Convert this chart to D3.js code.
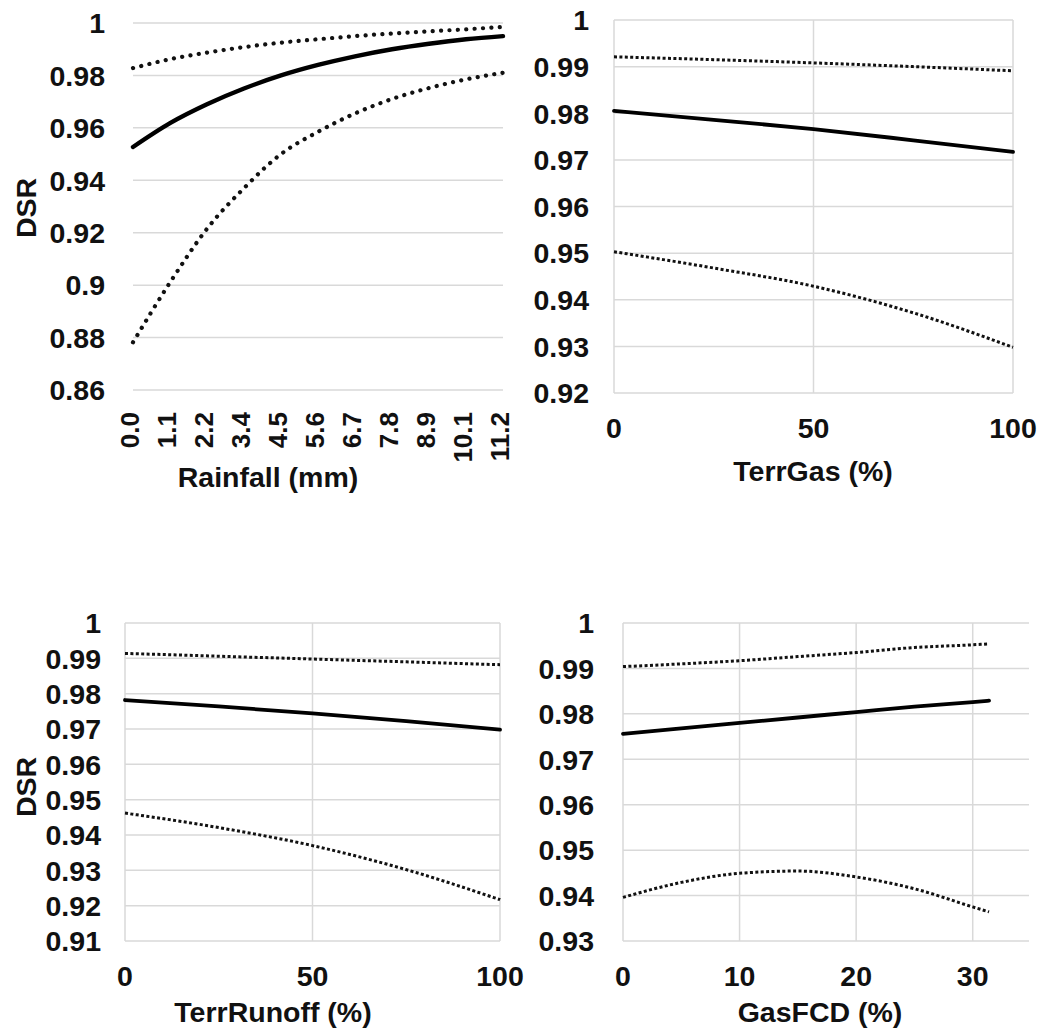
<!DOCTYPE html>
<html><head><meta charset="utf-8">
<script src="https://cdn.jsdelivr.net/npm/d3@7"></script>
<style>
html,body{margin:0;padding:0;background:#fff;}
text{font-family:"Liberation Sans",Arial,sans-serif;font-weight:bold;fill:#111;}
</style></head>
<body><svg id="c" width="1057" height="1034"></svg>
<script>
// ---- Data ----
const rainLabels = ["0.0","1.1","2.2","3.4","4.5","5.6","6.7","7.8","8.9","10.1","11.2"];
const rainX      = [0, 1.12, 2.24, 3.36, 4.48, 5.6, 6.72, 7.84, 8.96, 10.08, 11.2];
const rainMean   = [0.9527,0.9618,0.9690,0.9750,0.9800,0.9840,0.9873,0.9900,0.9921,0.9938,0.9950];
const rainUpper  = [0.9828,0.9862,0.9887,0.9908,0.9925,0.9938,0.9950,0.9960,0.9968,0.9976,0.9985];
const rainLower  = [0.8782,0.9010,0.9215,0.9370,0.9500,0.9585,0.9655,0.9710,0.9752,0.9785,0.9810];
const rainYTicks = [0.86,0.88,0.9,0.92,0.94,0.96,0.98,1];

const gasX     = [0, 25, 50, 75, 100];
const gasMean  = [0.9805,0.9786,0.9766,0.9742,0.9717];
const gasUpper = [0.9921,0.9915,0.9908,0.9900,0.9891];
const gasLower = [0.9503,0.9468,0.9429,0.9372,0.9298];
const gasYTicks = [0.92,0.93,0.94,0.95,0.96,0.97,0.98,0.99,1];
const gasXTicks = [0, 50, 100];

const runX     = [0, 25, 50, 75, 100];
const runMean  = [0.9782,0.9764,0.9744,0.9722,0.9698];
const runUpper = [0.9914,0.9906,0.9898,0.9890,0.9882];
const runLower = [0.9462,0.9421,0.9370,0.9302,0.9217];
const runYTicks = [0.91,0.92,0.93,0.94,0.95,0.96,0.97,0.98,0.99,1];
const runXTicks = [0, 50, 100];

const fcdX     = [0, 5, 10, 15, 20, 25, 30, 31.4];
const fcdMean  = [0.9756,0.9768,0.9780,0.9792,0.9804,0.9816,0.9826,0.9829];
const fcdUpper = [0.9904,0.9910,0.9917,0.9926,0.9935,0.9946,0.9952,0.9954];
const fcdLower = [0.9396,0.9429,0.9449,0.9454,0.9441,0.9415,0.9375,0.9364];
const fcdYTicks = [0.93,0.94,0.95,0.96,0.97,0.98,0.99,1];
const fcdXTicks = [0, 10, 20, 30];

const fmtY = v => v === 1 ? "1" : String(+v.toFixed(2));
const svg = d3.select("#c");
const grid = "#d9d9d9";
const FS = 28.5;

function panel(o){
  const g = svg.append("g");
  const x = d3.scaleLinear().domain(o.xDomain).range([o.left, o.right]);
  const y = d3.scaleLinear().domain([o.yTicks[0], 1]).range([o.bottom, o.top]);
  g.append("g").selectAll("line").data(o.yTicks).join("line")
    .attr("x1", o.left).attr("x2", o.gridRight || o.right)
    .attr("y1", d => y(d)).attr("y2", d => y(d))
    .attr("stroke", grid).attr("stroke-width", 1.5);
  if (o.vGrid) g.append("g").selectAll("line").data(o.vGrid).join("line")
    .attr("x1", d => x(d)).attr("x2", d => x(d))
    .attr("y1", o.top).attr("y2", o.bottom)
    .attr("stroke", grid).attr("stroke-width", 1.5);
  g.append("g").selectAll("text").data(o.yTicks).join("text")
    .attr("x", o.yLabelX).attr("y", d => y(d)).attr("dy", "0.36em")
    .attr("text-anchor", "end").attr("font-size", FS).text(fmtY);
  if (o.rotLabels) {
    g.append("g").selectAll("text").data(o.xTickVals).join("text")
      .attr("transform", (d,i) => `translate(${x(d)-3},${o.xLabelY}) rotate(-90)`)
      .attr("dy", "0.36em").attr("text-anchor", "end").attr("font-size", 26)
      .text((d,i) => o.rotLabels[i]);
  } else {
    g.append("g").selectAll("text").data(o.xTickVals).join("text")
      .attr("x", d => x(d)).attr("y", o.xLabelY)
      .attr("text-anchor", "middle").attr("font-size", FS).text(d => d);
  }
  g.append("text").attr("x", o.titleX).attr("y", o.titleY)
    .attr("text-anchor", "middle").attr("font-size", FS).text(o.title);
  if (o.yTitle) g.append("text")
    .attr("transform", `translate(${o.yTitleX},${o.yTitleY}) rotate(-90)`)
    .attr("dy", "0.36em").attr("text-anchor", "middle").attr("font-size", FS).text(o.yTitle);
  const line = d3.line().x(d => x(d[0])).y(d => y(d[1])).curve(d3.curveMonotoneX);
  const z = (xs, ys) => xs.map((v,i) => [v, ys[i]]);
  [o.upper, o.lower].forEach(s => {
    g.append("path").attr("d", line(z(o.xs, s))).attr("fill", "none")
      .attr("stroke", "#111").attr("stroke-width", o.dotW)
      .attr("stroke-dasharray", o.dash).attr("stroke-linecap", o.cap);
  });
  g.append("path").attr("d", line(z(o.xs, o.mean))).attr("fill", "none")
    .attr("stroke", "#000").attr("stroke-width", o.solidW).attr("stroke-linecap", "round");
}

panel({xDomain:[0,11.2], left:133, right:503, top:23, bottom:390, yTicks:rainYTicks,
  xs:rainX, mean:rainMean, upper:rainUpper, lower:rainLower,
  xTickVals:rainX, rotLabels:rainLabels, xLabelY:412, yLabelX:105,
  title:"Rainfall (mm)", titleX:268, titleY:487, yTitle:"DSR", yTitleX:26, yTitleY:208,
  dotW:4.2, dash:"0.1 8.3", cap:"round", solidW:4.4});

panel({xDomain:[0,100], left:614, right:1013, top:20, bottom:393, yTicks:gasYTicks,
  vGrid:gasXTicks, xs:gasX, mean:gasMean, upper:gasUpper, lower:gasLower,
  xTickVals:gasXTicks, xLabelY:438, yLabelX:589,
  title:"TerrGas (%)", titleX:813, titleY:481,
  dotW:3, dash:"3 2.4", cap:"butt", solidW:3.8});

panel({xDomain:[0,100], left:125, right:500, top:623, bottom:941, yTicks:runYTicks,
  vGrid:runXTicks, xs:runX, mean:runMean, upper:runUpper, lower:runLower,
  xTickVals:runXTicks, xLabelY:986, yLabelX:101,
  title:"TerrRunoff (%)", titleX:273, titleY:1022, yTitle:"DSR", yTitleX:26, yTitleY:787,
  dotW:3, dash:"3 2.4", cap:"butt", solidW:3.8});

panel({xDomain:[0,35], left:623, right:1031, gridRight:1029, top:623, bottom:941, yTicks:fcdYTicks,
  vGrid:fcdXTicks, xs:fcdX, mean:fcdMean, upper:fcdUpper, lower:fcdLower,
  xTickVals:fcdXTicks, xLabelY:986, yLabelX:594,
  title:"GasFCD (%)", titleX:820, titleY:1022,
  dotW:3, dash:"3 2.4", cap:"butt", solidW:3.8});
</script></body></html>
